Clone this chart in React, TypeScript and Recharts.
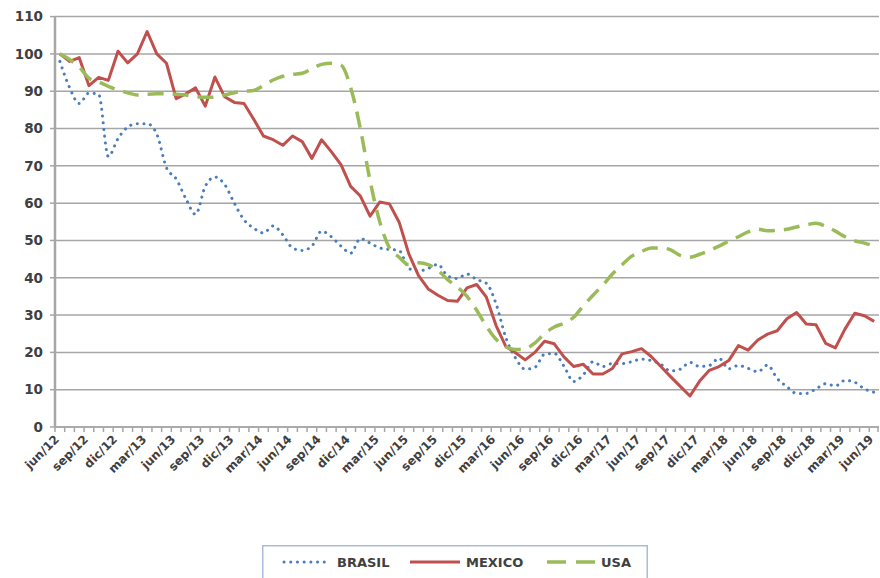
import React from 'react';
import { LineChart, Line, XAxis, YAxis, CartesianGrid, Legend } from 'recharts';

const MONTHS = [
  'jun/12','jul/12','ago/12','sep/12','oct/12','nov/12','dic/12',
  'ene/13','feb/13','mar/13','abr/13','may/13','jun/13','jul/13','ago/13','sep/13','oct/13','nov/13','dic/13',
  'ene/14','feb/14','mar/14','abr/14','may/14','jun/14','jul/14','ago/14','sep/14','oct/14','nov/14','dic/14',
  'ene/15','feb/15','mar/15','abr/15','may/15','jun/15','jul/15','ago/15','sep/15','oct/15','nov/15','dic/15',
  'ene/16','feb/16','mar/16','abr/16','may/16','jun/16','jul/16','ago/16','sep/16','oct/16','nov/16','dic/16',
  'ene/17','feb/17','mar/17','abr/17','may/17','jun/17','jul/17','ago/17','sep/17','oct/17','nov/17','dic/17',
  'ene/18','feb/18','mar/18','abr/18','may/18','jun/18','jul/18','ago/18','sep/18','oct/18','nov/18','dic/18',
  'ene/19','feb/19','mar/19','abr/19','may/19','jun/19',
];

const BRASIL = [
  98, 91, 86.7, 89.5, 89.2, 72.5, 77.3, 80.4, 81.3, 81.3, 78.5, 69.5, 66.5, 61.2, 57, 64.5, 67, 65, 60,
  55.5, 53.3, 52, 53.9, 51.5, 48, 47.3, 48.5, 52.5, 51, 48.5, 46.6,
  50.5, 49.3, 48, 47.6, 47.3, 42.5, 41.8, 42.5, 43.6, 40.5, 39.8, 41,
  39.5, 38.5, 33, 24, 18.5, 15.5, 16, 19.5, 19.7, 16.3, 12.2, 14,
  17.5, 16.2, 17, 17, 17.5, 18.2, 17.8, 16.8, 15, 15.5, 17.3, 16.2,
  16.5, 18.4, 15.6, 16.5, 15.7, 14.8, 16.6, 13, 10.8, 9, 9, 10.2,
  11.6, 11, 12.5, 12, 10.2, 9.3,
];

const MEXICO = [
  100, 98, 99, 91.5, 93.7, 92.9, 100.7, 97.6, 100, 106, 100, 97.5, 88, 89.3, 90.9, 86, 93.8, 88.5, 87,
  86.7, 82.5, 78, 77, 75.5, 78, 76.5, 72, 77, 73.8, 70.3, 64.5,
  61.9, 56.5, 60.3, 59.8, 54.9, 46.4, 40.6, 37, 35.3, 33.9, 33.7, 37.3,
  38.2, 34.8, 27.2, 21.6, 19.9, 18, 20, 23, 22.3, 18.8, 16.2, 16.8,
  14.2, 14.2, 15.7, 19.6, 20.2, 21, 18.9, 16.2, 13.5, 10.9, 8.3, 12.3,
  15.2, 16.2, 17.8, 21.8, 20.6, 23.3, 24.9, 25.8, 29, 30.7, 27.6, 27.4,
  22.4, 21.2, 26.3, 30.5, 29.8, 28.3,
];

const USA = [
  100, 98.5, 96.5, 93.5, 92.5, 91.3, 90.3, 89.6, 89, 89.2, 89.3, 89.3, 89.2, 89, 88.6, 88.4, 88.4, 89, 89.6,
  90, 90.2, 91.5, 93, 94, 94.5, 94.8, 96, 97.2, 97.5, 97, 91,
  80, 66, 55, 48, 45.5, 43.5, 44, 43.5, 42, 39.5, 37.5, 35,
  31.3, 27, 23.5, 21.5, 20.8, 21, 22.5, 25, 26.8, 27.8, 29.4, 32.5,
  35.3, 38, 41, 43.5, 45.8, 47, 48, 48, 47.5, 46, 45.5, 46.3,
  47.3, 48.5, 49.8, 51, 52.3, 53, 52.6, 52.7, 53, 53.6, 54.2, 54.6,
  53.8, 52.5, 51, 49.9, 49.3, 48.5,
];

const Y_TICKS = [0, 10, 20, 30, 40, 50, 60, 70, 80, 90, 100, 110];
const LABEL_STEP = 3;

const SERIES_NAMES = ['BRASIL', 'MEXICO', 'USA'];

const data = MONTHS.map((m, i) => ({
  month: m,
  BRASIL: BRASIL[i],
  MEXICO: MEXICO[i],
  USA: USA[i],
}));

const FONT = '"DejaVu Sans", "Liberation Sans", Arial, sans-serif';
const TEXT = '#404040';
const GRID = '#a6a6a6';
const BLUE = '#4a7ebb';
const RED = '#c0504d';
const GREEN = '#9bbb59';

const PLOT_LEFT = 55;
const PLOT_RIGHT = 879;
const BAND = (PLOT_RIGHT - PLOT_LEFT) / MONTHS.length;
const LEGEND_H = 33;

const XTick = (props: any) => {
  const { x, y, payload, index } = props;
  const cx = payload && payload.coordinate != null ? payload.coordinate : x;
  const isLast = index === MONTHS.length - 1;
  return (
    <g>
      <line x1={cx - BAND / 2} x2={cx - BAND / 2} y1={y} y2={y + 5} stroke={GRID} strokeWidth={1.5} />
      {isLast && (
        <line x1={cx + BAND / 2 - 1} x2={cx + BAND / 2 - 1} y1={y} y2={y + 5} stroke={GRID} strokeWidth={1.5} />
      )}
      {index % LABEL_STEP === 0 && (
        <text
          transform={`translate(${cx - 3},${y + 10}) rotate(-45)`}
          textAnchor="end"
          dy="0.35em"
          fontFamily={FONT}
          fontSize={12}
          fontWeight="bold"
          fill={TEXT}
        >
          {payload.value}
        </text>
      )}
    </g>
  );
};

const renderLegend = () => (
  <svg width={386} height={LEGEND_H} style={{ display: 'block' }}>
    <path d="M0.75,33 L0.75,0.75 L385.25,0.75 L385.25,33" fill="#fff" stroke="#a9bcd8" strokeWidth={1.5} />
    <line x1={22} x2={68} y1={17} y2={17} stroke={BLUE} strokeWidth={3} strokeDasharray="0.1 6.6" strokeLinecap="round" />
    <text x={75} y={22} fontFamily={FONT} fontSize={13} fontWeight="bold" fill={TEXT}>{SERIES_NAMES[0]}</text>
    <line x1={148} x2={198} y1={17} y2={17} stroke={RED} strokeWidth={3} />
    <text x={204} y={22} fontFamily={FONT} fontSize={13} fontWeight="bold" fill={TEXT}>{SERIES_NAMES[1]}</text>
    <line x1={285} x2={334} y1={17} y2={17} stroke={GREEN} strokeWidth={3.5} strokeDasharray="19 10" />
    <text x={339} y={22} fontFamily={FONT} fontSize={13} fontWeight="bold" fill={TEXT}>{SERIES_NAMES[2]}</text>
  </svg>
);

export default function App() {
  return (
    <div style={{ width: 880, height: 578, background: '#fff' }}>
      <style>{`body{margin:0;background:#fff;overflow:hidden}`}</style>
      <LineChart
        width={880}
        height={578}
        data={data}
        margin={{ top: 16.6, right: 880 - PLOT_RIGHT, bottom: 91 - LEGEND_H, left: 0 }}
      >
        <CartesianGrid vertical={false} stroke={GRID} strokeWidth={1.5} />
        <XAxis
          dataKey="month"
          interval={0}
          height={60}
          padding={{ left: BAND / 2, right: BAND / 2 }}
          axisLine={{ stroke: GRID, strokeWidth: 1.5 }}
          tickLine={false}
          tickSize={0}
          tickMargin={0}
          tick={<XTick />}
        />
        <YAxis
          domain={[0, 110]}
          ticks={Y_TICKS}
          interval={0}
          width={PLOT_LEFT}
          axisLine={{ stroke: GRID, strokeWidth: 2.5 }}
          tickLine={{ stroke: GRID, strokeWidth: 1.5 }}
          tickSize={5}
          tickMargin={7}
          tick={{ fontFamily: FONT, fontSize: 13.5, fontWeight: 'bold', fill: TEXT }}
        />
        <Line
          type="monotone"
          dataKey="BRASIL"
          stroke={BLUE}
          strokeWidth={3}
          strokeDasharray="0.1 6.6"
          strokeLinecap="round"
          dot={false}
          isAnimationActive={false}
        />
        <Line
          type="linear"
          dataKey="MEXICO"
          stroke={RED}
          strokeWidth={3}
          strokeLinejoin="round"
          dot={false}
          isAnimationActive={false}
        />
        <Line
          type="monotone"
          dataKey="USA"
          stroke={GREEN}
          strokeWidth={3.5}
          strokeDasharray="16 9"
          dot={false}
          isAnimationActive={false}
        />
        <Legend
          layout="vertical"
          align="center"
          verticalAlign="bottom"
          wrapperStyle={{ position: 'absolute', left: 262, top: 545, width: 386, height: LEGEND_H }}
          content={renderLegend}
        />
      </LineChart>
    </div>
  );
}
